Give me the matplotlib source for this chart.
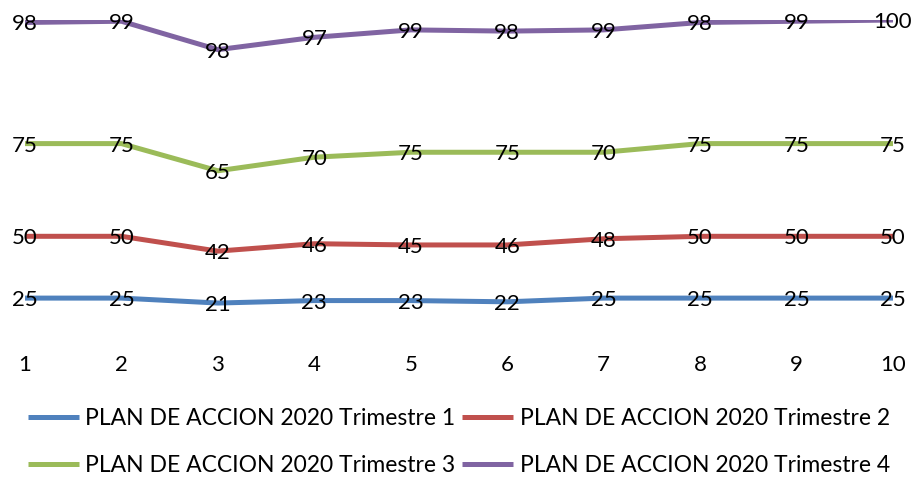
import numpy as np
import matplotlib

matplotlib.use("Agg")
from matplotlib import pyplot as plt

plt.rcParams["font.family"] = ["Liberation Sans Narrow", "Lato", "DejaVu Sans"]

categories = [1, 2, 3, 4, 5, 6, 7, 8, 9, 10]
series_names = [
    "PLAN DE ACCION 2020 Trimestre 1",
    "PLAN DE ACCION 2020 Trimestre 2",
    "PLAN DE ACCION 2020 Trimestre 3",
    "PLAN DE ACCION 2020 Trimestre 4",
]
trimestre_1 = [25, 25, 21, 23, 23, 22, 25, 25, 25, 25]
trimestre_2 = [50, 50, 42, 46, 45, 46, 48, 50, 50, 50]
trimestre_3 = [75, 75, 65, 70, 75, 75, 70, 75, 75, 75]
trimestre_4 = [98, 99, 98, 97, 99, 98, 99, 98, 99, 100]
colors = ["#4F81BD", "#C0504D", "#9BBB59", "#8064A2"]

# stacked line chart (values accumulate)
values = np.array([trimestre_1, trimestre_2, trimestre_3, trimestre_4])
stacked = np.cumsum(values, axis=0)

fig = plt.figure(figsize=(9.18, 4.79), dpi=100)
ax = fig.add_axes([25 / 918, 150 / 479, 868 / 918, 309 / 479])

lines = []
for name, color, raw, cum in zip(series_names, colors, values, stacked):
    (line,) = ax.plot(categories, cum, color=color, linewidth=3.6, label=name, solid_capstyle="butt", zorder=2)
    lines.append(line)
    for x, y, v in zip(categories, cum, raw):
        ax.text(x, y, str(v), ha="center", va="center_baseline", fontsize=16, color="black", zorder=3)

ax.set_xlim(1, 10)
ax.set_ylim(0, 250)
ax.set_xticks(categories)
ax.set_xticklabels([str(c) for c in categories], fontsize=16)
ax.tick_params(axis="x", length=0, pad=19)
ax.set_yticks([])
for spine in ax.spines.values():
    spine.set_visible(False)

# legend fills row by row: 1, 2 / 3, 4
order = [0, 2, 1, 3]
fig.legend(
    [lines[i] for i in order],
    [series_names[i] for i in order],
    loc="center",
    bbox_to_anchor=(0.5, (479 - 442) / 479),
    ncol=2,
    frameon=False,
    fontsize=16.5,
    handlelength=2.2,
    handletextpad=0.3,
    columnspacing=0.3,
    labelspacing=1.1,
)

fig.savefig("out.png", dpi=100)
